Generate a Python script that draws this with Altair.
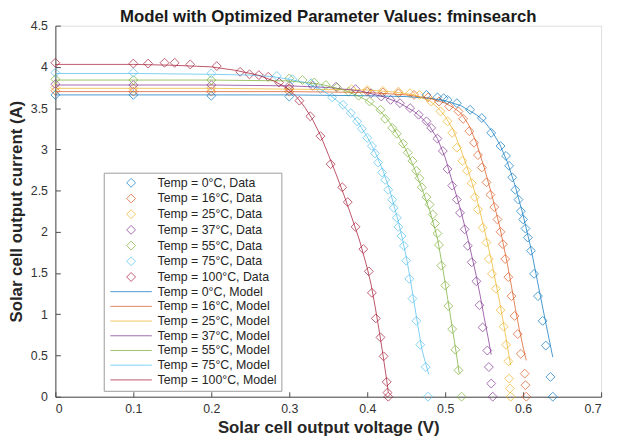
import altair as alt
import pandas as pd

# ---------------- data ----------------
temps = ["0", "16", "25", "37", "55", "75", "100"]
colors = ["#0072BD", "#D95319", "#EDB120", "#7E2F8E", "#77AC30", "#4DBEEE", "#A2142F"]

# measured data (voltage V, current A)
data_v_0 = [0, 0.1, 0.2, 0.3, 0.476, 0.49, 0.498, 0.503, 0.515, 0.532, 0.547, 0.559, 0.571, 0.578, 0.582,
            0.586, 0.59, 0.594, 0.597, 0.6, 0.603, 0.606, 0.61, 0.614, 0.619, 0.625, 0.629, 0.635, 0.638]
data_i_0 = [3.66, 3.66, 3.65, 3.64, 3.66, 3.63, 3.62, 3.6, 3.56, 3.48, 3.38, 3.2, 3.04, 2.92, 2.8,
            2.66, 2.51, 2.39, 2.25, 2.15, 2.04, 1.93, 1.77, 1.49, 1.22, 0.92, 0.62, 0.24, 0.0]

data_v_16 = [0, 0.1, 0.2, 0.3, 0.40, 0.42, 0.44, 0.46, 0.478, 0.492, 0.505, 0.517, 0.523, 0.531, 0.537, 0.542,
             0.547, 0.553, 0.558, 0.563, 0.567, 0.571, 0.574, 0.577, 0.581, 0.585, 0.589, 0.593, 0.597, 0.602,
             0.603, 0.604]
data_i_16 = [3.71, 3.70, 3.70, 3.70, 3.70, 3.69, 3.68, 3.66, 3.63, 3.58, 3.52, 3.46, 3.37, 3.22, 3.08, 2.93,
             2.78, 2.60, 2.45, 2.30, 2.15, 2.00, 1.85, 1.67, 1.45, 1.22, 0.98, 0.76, 0.52, 0.28, 0.14, 0.0]

data_v_25 = [0, 0.1, 0.2, 0.3, 0.38, 0.40, 0.42, 0.44, 0.455, 0.467, 0.482, 0.494, 0.503, 0.509, 0.515, 0.522,
             0.528, 0.534, 0.538, 0.542, 0.548, 0.553, 0.556, 0.560, 0.565, 0.571, 0.575, 0.578, 0.581, 0.582,
             0.583, 0.584]
data_i_25 = [3.75, 3.74, 3.74, 3.73, 3.73, 3.72, 3.71, 3.70, 3.68, 3.66, 3.58, 3.46, 3.34, 3.20, 3.02, 2.86,
             2.74, 2.59, 2.42, 2.27, 2.05, 1.87, 1.67, 1.49, 1.31, 1.05, 0.85, 0.63, 0.43, 0.22, 0.10, 0.0]

data_v_37 = [0, 0.1, 0.2, 0.3, 0.33, 0.36, 0.385, 0.405, 0.418, 0.430, 0.442, 0.455, 0.466, 0.476, 0.482, 0.490,
             0.497, 0.503, 0.509, 0.515, 0.519, 0.525, 0.529, 0.534, 0.540, 0.544, 0.548, 0.554, 0.556, 0.559,
             0.561]
data_i_37 = [3.79, 3.78, 3.78, 3.77, 3.77, 3.76, 3.73, 3.68, 3.64, 3.60, 3.56, 3.50, 3.42, 3.34, 3.26, 3.13,
             2.98, 2.76, 2.56, 2.39, 2.23, 2.03, 1.83, 1.63, 1.40, 1.11, 0.84, 0.56, 0.36, 0.16, 0.0]

data_v_55 = [0, 0.1, 0.2, 0.300, 0.317, 0.332, 0.347, 0.361, 0.376, 0.389, 0.403, 0.417, 0.423, 0.432, 0.438,
             0.446, 0.452, 0.458, 0.463, 0.467, 0.470, 0.476, 0.480, 0.484, 0.487, 0.490, 0.492, 0.495, 0.500,
             0.504, 0.509, 0.513, 0.517, 0.521]
data_i_55 = [3.85, 3.84, 3.84, 3.86, 3.84, 3.81, 3.78, 3.75, 3.70, 3.65, 3.58, 3.48, 3.37, 3.26, 3.19,
             3.07, 2.96, 2.86, 2.74, 2.65, 2.54, 2.42, 2.33, 2.21, 2.10, 1.98, 1.84, 1.59, 1.35,
             1.10, 0.82, 0.57, 0.32, 0.0]

data_v_75 = [0, 0.1, 0.2, 0.284, 0.304, 0.328, 0.340, 0.355, 0.369, 0.379, 0.387, 0.393, 0.400, 0.406, 0.410,
             0.414, 0.419, 0.423, 0.427, 0.432, 0.434, 0.438, 0.440, 0.444, 0.447, 0.450, 0.454, 0.458, 0.463,
             0.468, 0.475, 0.478]
data_i_75 = [3.93, 3.93, 3.92, 3.89, 3.85, 3.80, 3.73, 3.63, 3.54, 3.44, 3.34, 3.25, 3.14, 3.04, 2.95,
             2.84, 2.72, 2.63, 2.51, 2.39, 2.29, 2.17, 2.06, 1.95, 1.83, 1.65, 1.43, 1.19, 0.92,
             0.63, 0.36, 0.0]

data_v_100 = [0, 0.1, 0.119, 0.140, 0.153, 0.173, 0.207, 0.237, 0.249, 0.261, 0.273, 0.287, 0.300, 0.313,
              0.327, 0.340, 0.353, 0.368, 0.375, 0.385, 0.395, 0.402, 0.406, 0.411, 0.417, 0.421, 0.425,
              0.426, 0.427]
data_i_100 = [4.05, 4.04, 4.04, 4.05, 4.05, 4.03, 4.01, 3.94, 3.91, 3.90, 3.88, 3.81, 3.74, 3.59,
              3.40, 3.16, 2.82, 2.54, 2.36, 2.06, 1.79, 1.52, 1.26, 0.95, 0.72, 0.49, 0.18,
              0.05, 0.0]

# fitted model curves
model_v_0 = [0, 0.1, 0.2, 0.3, 0.4, 0.45, 0.48, 0.5, 0.52, 0.54, 0.55, 0.56, 0.57, 0.58, 0.59, 0.6, 0.61,
             0.62, 0.63, 0.638]
model_i_0 = [3.66, 3.66, 3.66, 3.66, 3.65, 3.64, 3.62, 3.59, 3.53, 3.42, 3.34, 3.22, 3.06, 2.84, 2.55, 2.20,
             1.80, 1.32, 0.85, 0.48]

model_v_16 = [0, 0.1, 0.2, 0.3, 0.4, 0.45, 0.48, 0.5, 0.51, 0.52, 0.53, 0.54, 0.55, 0.56, 0.57, 0.58, 0.585,
              0.59, 0.595, 0.6, 0.604]
model_i_16 = [3.70, 3.70, 3.70, 3.70, 3.69, 3.66, 3.62, 3.56, 3.51, 3.44, 3.30, 3.08, 2.78, 2.44, 2.06, 1.60,
              1.34, 1.07, 0.82, 0.60, 0.44]

model_v_25 = [0, 0.1, 0.2, 0.3, 0.4, 0.44, 0.46, 0.48, 0.49, 0.5, 0.51, 0.52, 0.53, 0.54, 0.55, 0.56, 0.57,
              0.575, 0.58, 0.584]
model_i_25 = [3.74, 3.74, 3.74, 3.73, 3.72, 3.69, 3.66, 3.59, 3.51, 3.40, 3.24, 3.00, 2.73, 2.42, 2.04, 1.62,
              1.14, 0.88, 0.60, 0.38]

model_v_37 = [0, 0.1, 0.2, 0.3, 0.35, 0.39, 0.42, 0.44, 0.46, 0.47, 0.48, 0.49, 0.5, 0.51, 0.52, 0.53, 0.54,
              0.545, 0.55, 0.555, 0.559]
model_i_37 = [3.78, 3.78, 3.78, 3.77, 3.75, 3.71, 3.64, 3.57, 3.46, 3.38, 3.28, 3.13, 2.90, 2.58, 2.26, 1.88,
              1.46, 1.22, 0.96, 0.72, 0.51]

model_v_55 = [0, 0.1, 0.2, 0.3, 0.34, 0.37, 0.39, 0.4, 0.41, 0.42, 0.43, 0.44, 0.45, 0.46, 0.47, 0.48, 0.485,
              0.49, 0.495, 0.5, 0.505, 0.51, 0.515, 0.518]
model_i_55 = [3.84, 3.84, 3.84, 3.83, 3.79, 3.72, 3.64, 3.59, 3.52, 3.43, 3.31, 3.16, 2.99, 2.78, 2.53, 2.26,
              2.10, 1.92, 1.66, 1.38, 1.08, 0.78, 0.48, 0.28]

model_v_75 = [0, 0.1, 0.2, 0.25, 0.28, 0.3, 0.32, 0.34, 0.35, 0.36, 0.37, 0.38, 0.39, 0.4, 0.41, 0.42, 0.43,
              0.44, 0.445, 0.45, 0.455, 0.46, 0.465, 0.47, 0.475, 0.479]
model_i_75 = [3.92, 3.92, 3.91, 3.90, 3.88, 3.85, 3.81, 3.73, 3.67, 3.60, 3.52, 3.42, 3.30, 3.15, 2.97, 2.75,
              2.47, 2.12, 1.92, 1.70, 1.44, 1.15, 0.86, 0.58, 0.40, 0.27]

model_v_100 = [0, 0.1, 0.15, 0.2, 0.23, 0.26, 0.28, 0.29, 0.3, 0.31, 0.32, 0.33, 0.34, 0.35, 0.36, 0.37, 0.38,
               0.39, 0.4, 0.405, 0.41, 0.415, 0.42, 0.425, 0.427]
model_i_100 = [4.03, 4.03, 4.02, 4.00, 3.96, 3.90, 3.83, 3.78, 3.72, 3.63, 3.51, 3.36, 3.17, 2.94, 2.70, 2.45,
               2.18, 1.90, 1.56, 1.36, 1.10, 0.82, 0.52, 0.20, 0.05]

x_ticks = [0, 0.1, 0.2, 0.3, 0.4, 0.5, 0.6, 0.7]
y_ticks = [0, 0.5, 1, 1.5, 2, 2.5, 3, 3.5, 4, 4.5]

# ---------------- tables ----------------
data_sets = [(data_v_0, data_i_0), (data_v_16, data_i_16), (data_v_25, data_i_25), (data_v_37, data_i_37),
             (data_v_55, data_i_55), (data_v_75, data_i_75), (data_v_100, data_i_100)]
model_sets = [(model_v_0, model_i_0), (model_v_16, model_i_16), (model_v_25, model_i_25),
              (model_v_37, model_i_37), (model_v_55, model_i_55), (model_v_75, model_i_75),
              (model_v_100, model_i_100)]

data_labels = [f"Temp = {t}\u00b0C, Data" for t in temps]
model_labels = [f"Temp = {t}\u00b0C, Model" for t in temps]
all_labels = data_labels + model_labels
all_colors = colors + colors
line_shape = "M-4.67,0H4.67"
all_shapes = ["diamond"] * len(temps) + [line_shape] * len(temps)

rows = []
for lab, (vs, cs) in zip(data_labels, data_sets):
    for v, c in zip(vs, cs):
        rows.append({"V": v, "I": c, "label": lab})
df_data = pd.DataFrame(rows)

rows = []
for lab, (vs, cs) in zip(model_labels, model_sets):
    for v, c in zip(vs, cs):
        rows.append({"V": v, "I": c, "label": lab})
df_model = pd.DataFrame(rows)

FONT = "Liberation Sans"
W, H = 553, 376
SYM = 81
TFS = 17

xscale = alt.Scale(domain=[0, 0.7], nice=False, zero=False)
yscale = alt.Scale(domain=[0, 4.5], nice=False, zero=False)
cscale = alt.Scale(domain=all_labels, range=all_colors)
sscale = alt.Scale(domain=all_labels, range=all_shapes)

leg = alt.Legend(
    title=None, orient="none", legendX=49, legendY=149,
    strokeColor="#9a9a9a", fillColor="white", padding=4,
    labelFont=FONT, labelFontSize=12.5, labelColor="#262626",
    symbolSize=SYM, symbolStrokeWidth=1, symbolOffset=17.5, labelOffset=20.5,
    rowPadding=1.9, symbolFillColor="transparent", labelLimit=300, symbolOpacity=0.7,
)

main_x = alt.Axis(values=x_ticks, format="~g", ticks=False, tickSize=0, domainColor="#4a4a4a",
                  labelFont=FONT, labelFontSize=12.5, labelColor="#333333", labelPadding=6, grid=False,
                  title="Solar cell output voltage (V)", titleFont=FONT, titleFontSize=TFS,
                  titleFontWeight="bold", titleColor="#262626", titlePadding=5)
main_y = alt.Axis(values=y_ticks, format="~g", ticks=False, tickSize=0, domainColor="#4a4a4a",
                  labelFont=FONT, labelFontSize=12.5, labelColor="#333333", labelPadding=8, grid=False,
                  title="Solar cell output current (A)", titleFont=FONT, titleFontSize=TFS,
                  titleFontWeight="bold", titleColor="#262626", titlePadding=5)
tick_x = alt.Axis(orient="top", offset=-H, values=x_ticks, labels=False, domain=False, ticks=True,
                  tickSize=5, tickColor="#4a4a4a", grid=False, title=None)
tick_y = alt.Axis(orient="right", offset=-W, values=y_ticks, labels=False, domain=False, ticks=True,
                  tickSize=5, tickColor="#4a4a4a", grid=False, title=None)

pts = alt.Chart(df_data).mark_point(filled=False, size=SYM, strokeWidth=1, opacity=0.68).encode(
    x=alt.X("V:Q", scale=xscale, axis=main_x),
    y=alt.Y("I:Q", scale=yscale, axis=main_y),
    color=alt.Color("label:N", scale=cscale, legend=leg),
    shape=alt.Shape("label:N", scale=sscale, legend=leg),
)

lines = alt.Chart(df_model).mark_line(strokeWidth=1, opacity=0.72).encode(
    x=alt.X("V:Q", scale=xscale, axis=tick_x),
    y=alt.Y("I:Q", scale=yscale, axis=tick_y),
    color=alt.Color("label:N", scale=cscale, legend=None),
)

chart = alt.layer(pts, lines).resolve_axis(x="independent", y="independent").properties(
    width=W, height=H,
    title=alt.TitleParams("Model with Optimized Parameter Values: fminsearch", font=FONT, fontSize=TFS,
                          fontWeight="bold", color="#1a1a1a", anchor="middle", offset=-6),
    autosize=alt.AutoSizeParams(type="none"),
    padding={"left": 48, "top": 15, "right": 9, "bottom": 43},
).configure_view(stroke=None).configure(background="white")

chart.save("out.html", embed_options={"renderer": "svg", "actions": False})
